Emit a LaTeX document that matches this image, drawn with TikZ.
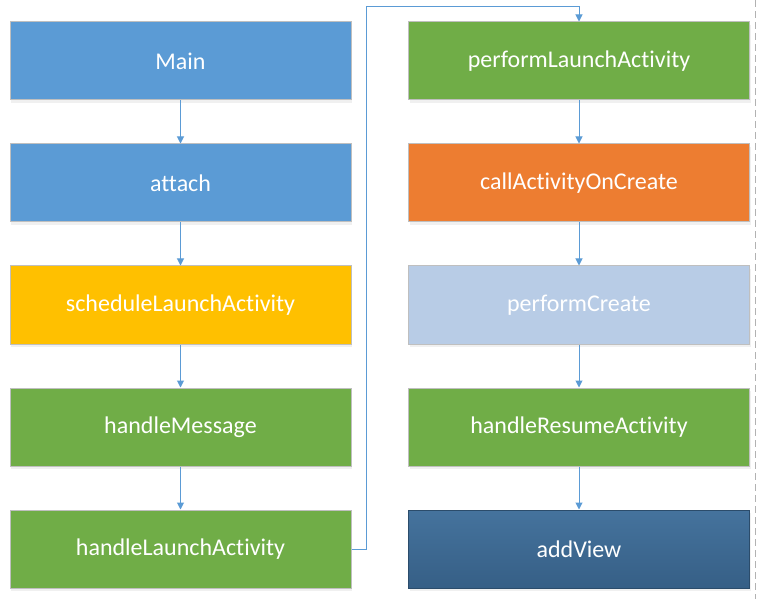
\documentclass[tikz,border=0pt]{standalone}
\usepackage{fontspec}
\setmainfont[Ligatures={NoCommon}]{Carlito}
\usetikzlibrary{arrows.meta,shadows}
\definecolor{cblue}{HTML}{5B9BD5}
\definecolor{cyellow}{HTML}{FFC000}
\definecolor{cgreen}{HTML}{70AD47}
\definecolor{corange}{HTML}{ED7D31}
\definecolor{clight}{HTML}{B8CCE6}
\definecolor{cdarkA}{HTML}{45739D}
\definecolor{cdarkB}{HTML}{365F86}
\definecolor{cborder}{HTML}{BFBFBF}
\definecolor{cline}{HTML}{5B9BD5}
\tikzset{
  box/.style={draw=cborder, line width=1pt, minimum width=341pt, minimum height=78pt,
    inner sep=0pt, text=white, font=\fontsize{24}{28}\selectfont,
    drop shadow={shadow xshift=1pt, shadow yshift=-3pt, opacity=0.12, fill=gray}},
  conn/.style={draw=cline, line width=1pt, -{Triangle[width=7pt,length=7pt]}}
}
\begin{document}
\begin{tikzpicture}[x=1pt,y=-1pt]
\useasboundingbox (0,0) rectangle (764,599);
\draw[cborder!80!gray, line width=1pt, dash pattern=on 7pt off 4pt] (755,0) -- (755,599);
\node[box, fill=cblue] (main) at (180.5,61) {Main};
\node[box, fill=cblue] (attach) at (180.5,183) {attach};
\node[box, fill=cyellow] (sla) at (180.5,305) {scheduleLaunchActivity};
\node[box, fill=cgreen] (hm) at (180.5,427) {handleMessage};
\node[box, fill=cgreen] (hla) at (180.5,549) {handleLaunchActivity};
\node[box, fill=cgreen] (pla) at (579,61) {performLaunchActivity};
\node[box, fill=corange] (caoc) at (579,183) {callActivityOnCreate};
\node[box, fill=clight] (pc) at (579,305) {performCreate};
\node[box, fill=cgreen] (hra) at (579,427) {handleResumeActivity};
\node[box, draw=cdarkB!80!black, top color=cdarkA, bottom color=cdarkB] (av) at (579,549) {addView};
\coordinate (c1) at (366,549);
\coordinate (c2) at (366,7);
\coordinate (c3) at (579,7);
\draw[conn] (main) -- (attach);
\draw[conn] (attach) -- (sla);
\draw[conn] (sla) -- (hm);
\draw[conn] (hm) -- (hla);
\draw[conn] (hla.east) -- (c1) -- (c2) -- (c3) -- (pla.north);
\draw[conn] (pla) -- (caoc);
\draw[conn] (caoc) -- (pc);
\draw[conn] (pc) -- (hra);
\draw[conn] (hra) -- (av);
\end{tikzpicture}
\end{document}
